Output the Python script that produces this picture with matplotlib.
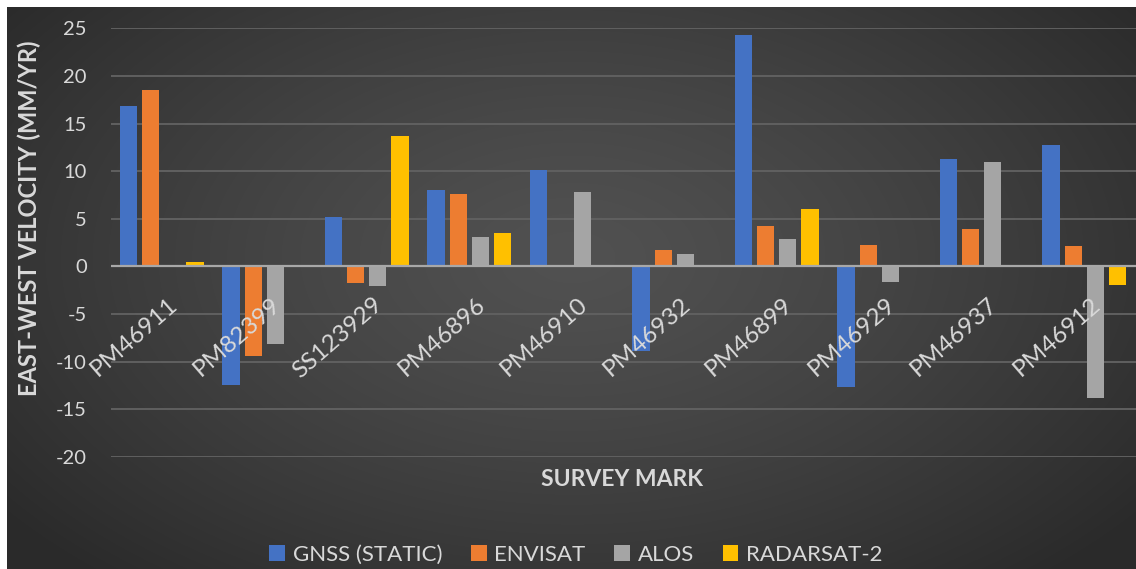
import numpy as np
import matplotlib
matplotlib.use("Agg")
import matplotlib.pyplot as plt
from matplotlib.patches import Patch

plt.rcParams['font.family'] = ['Lato', 'DejaVu Sans']

marks = ["PM46911", "PM82399", "SS123929", "PM46896", "PM46910",
         "PM46932", "PM46899", "PM46929", "PM46937", "PM46912"]
series = ["GNSS (STATIC)", "ENVISAT", "ALOS", "RADARSAT-2"]
gnss = [16.8, -12.4, 5.15, 8.05, 10.1, -8.9, 24.3, -12.6, 11.3, 12.8]
envisat = [18.55, -9.35, -1.7, 7.65, np.nan, 1.75, 4.2, 2.3, 3.9, 2.2]
alos = [np.nan, -8.15, -2.0, 3.1, 7.8, 1.3, 2.9, -1.6, 11.0, -13.8]
radarsat = [0.42, 0.1, 13.65, 3.5, np.nan, np.nan, 6.0, np.nan, np.nan, -1.9]
colors = ["#4472C4", "#ED7D31", "#A5A5A5", "#FFC000"]
yticks = [-20, -15, -10, -5, 0, 5, 10, 15, 20, 25]

W, H = 1136, 569
fig = plt.figure(figsize=(W / 100, H / 100), dpi=100, facecolor="white")

# dark chart area with a soft radial glow
bg = fig.add_axes([7 / W, 0, 1 - 7 / W, 1 - 7 / H])
bg.set_axis_off()
yy, xx = np.mgrid[0:562, 0:1129]
d = np.sqrt(((xx - 565) / 720.0) ** 2 + ((yy - 250) / 430.0) ** 2)
t = np.clip(d, 0, 1) ** 1.3
c0 = np.array([0x51, 0x51, 0x51]) / 255
c1 = np.array([0x2a, 0x2a, 0x2a]) / 255
img = c0[None, None, :] * (1 - t[..., None]) + c1[None, None, :] * t[..., None]
bg.imshow(img, aspect="auto", extent=[0, 1, 0, 1])
bg.set_xlim(0, 1)
bg.set_ylim(0, 1)

left, right = 110.5, 1135.5
top, bottom = 28.3, 457.0
ax = fig.add_axes([left / W, 1 - bottom / H, (right - left) / W, (bottom - top) / H])
ax.patch.set_alpha(0)
for s in ax.spines.values():
    s.set_visible(False)

x = np.arange(len(marks))
step, bw = 0.215, 0.17
for k, (vals, col) in enumerate(zip([gnss, envisat, alos, radarsat], colors)):
    ax.bar(x + (k - 1.5) * step, vals, width=bw, color=col, zorder=3)

ax.set_xlim(-0.5, len(marks) - 0.5)
ax.set_ylim(-20, 25)
ax.set_yticks(yticks)
ax.set_yticklabels([str(v) for v in yticks])
ax.tick_params(axis="y", length=0, pad=17, labelsize=14.5, labelcolor="#d9d9d9")
ax.set_xticks([])
ax.grid(axis="y", color="#606060", linewidth=1.4, zorder=1)
ax.set_axisbelow(True)
ax.axhline(0, color="#a8a8a8", linewidth=1.6, zorder=4)

for i, name in enumerate(marks):
    ax.annotate(name, xy=(i, 0), xytext=(6, -27), textcoords="offset pixels",
                ha="right", va="top", rotation=41, rotation_mode="anchor",
                fontsize=17.5, color="#d9d9d9", zorder=6)

fig.text(29 / W, 1 - 218 / H, "EAST-WEST VELOCITY (MM/YR)", rotation=90,
         ha="center", va="center", fontsize=17, fontweight="bold", color="#d9d9d9")
fig.text(622 / W, 1 - 479 / H, "SURVEY MARK", ha="center", va="center",
         fontsize=16.5, fontweight="bold", color="#d9d9d9")

handles = [Patch(facecolor=c, edgecolor="none") for c in colors]
fig.legend(handles, series, loc="center", bbox_to_anchor=(576 / W, 1 - 555 / H),
           ncol=4, frameon=False, fontsize=16, labelcolor="#d9d9d9",
           handlelength=0.7, handleheight=0.7, handletextpad=0.35,
           columnspacing=1.3)

fig.savefig("out.png", dpi=100, facecolor="white")
